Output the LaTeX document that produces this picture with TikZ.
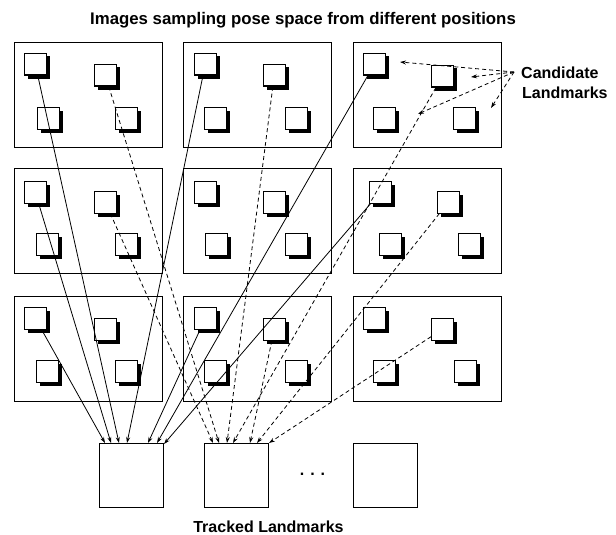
\documentclass[tikz,border=0pt]{standalone}
\usepackage{fontspec}
\setmainfont{Liberation Sans}
\usetikzlibrary{arrows.meta,shadows}
\begin{document}
\begin{tikzpicture}[x=1pt,y=-1pt,
  panel/.style={draw, line width=1.3pt, minimum width=148pt, minimum height=105pt, inner sep=0pt, anchor=north west},
  lm/.style={draw, fill=white, line width=1.1pt, minimum size=21.5pt, inner sep=0pt, anchor=north west,
     drop shadow={shadow xshift=3.5pt, shadow yshift=-3.5pt, opacity=1, fill=black, draw=black}},
  tbox/.style={draw, line width=1.2pt, minimum width=64pt, minimum height=64pt, inner sep=0pt, anchor=north west},
  link/.style={line width=0.8pt, -{Stealth[length=6pt,width=4pt]}},
  dlink/.style={link, dash pattern=on 4pt off 3pt},
  lbl/.style={font=\bfseries\fontsize{16}{19}\selectfont, inner sep=0pt}]
\useasboundingbox (0,0) rectangle (616,535);
\fill[white] (0,0) rectangle (616,535);

% title
\node[lbl, font=\bfseries\fontsize{16.8}{20}\selectfont, anchor=base] (title) at (303,25) {Images sampling pose space from different positions};

% panels
\foreach \r/\ty in {1/42,2/168,3/296}{
  \foreach \c/\lx in {1/14,2/183,3/353}{
    \node[panel] (p\r\c) at (\lx,\ty) {};
  }
}

% row 1 landmarks
\node[lm] (s11a) at (24,53) {};
\node[lm] (s11b) at (94,64) {};
\node[lm] (s11c) at (37,107) {};
\node[lm] (s11d) at (115,107) {};
\node[lm] (s12a) at (194,53) {};
\node[lm] (s12b) at (263,64) {};
\node[lm] (s12c) at (204,107) {};
\node[lm] (s12d) at (285,107) {};
\node[lm] (s13a) at (363,53) {};
\node[lm] (s13b) at (431,65) {};
\node[lm] (s13c) at (373,107) {};
\node[lm] (s13d) at (453,107) {};
% row 2
\node[lm] (s21a) at (24,181) {};
\node[lm] (s21b) at (94,191) {};
\node[lm] (s21c) at (36,233) {};
\node[lm] (s21d) at (115,233) {};
\node[lm] (s22a) at (194,181) {};
\node[lm] (s22b) at (263,191) {};
\node[lm] (s22c) at (205,233) {};
\node[lm] (s22d) at (285,233) {};
\node[lm] (s23a) at (369,181) {};
\node[lm] (s23b) at (437,191) {};
\node[lm] (s23c) at (379,233) {};
\node[lm] (s23d) at (458,233) {};
% row 3
\node[lm] (s31a) at (24,307) {};
\node[lm] (s31b) at (94,318) {};
\node[lm] (s31c) at (36,360) {};
\node[lm] (s31d) at (115,360) {};
\node[lm] (s32a) at (194,307) {};
\node[lm] (s32b) at (263,318) {};
\node[lm] (s32c) at (204,360) {};
\node[lm] (s32d) at (285,360) {};
\node[lm] (s33a) at (363,307) {};
\node[lm] (s33b) at (431,318) {};
\node[lm] (s33c) at (373,360) {};
\node[lm] (s33d) at (454,360) {};

% tracked landmark boxes
\node[tbox] (box1) at (99,443) {};
\node[tbox] (box2) at (204,443) {};
\node[tbox] (box3) at (353,443) {};
\node[lbl, anchor=base] (dots) at (312.5,475) {. . .};
\node[lbl, anchor=base] (tracked) at (268.5,532) {Tracked Landmarks};

% candidate label
\node[lbl, anchor=base west] (cand1) at (521,78) {Candidate};
\node[lbl, anchor=base west] (cand2) at (522,99) {Landmarks};

% end points on box tops
\coordinate (e1) at (105,443);
\coordinate (e2) at (111,443);
\coordinate (e3) at (119,443);
\coordinate (e4) at (127,443);
\coordinate (e5) at (148,443);
\coordinate (e6) at (157,443);
\coordinate (e7) at (164,444);
\coordinate (f1) at (213,443);
\coordinate (f2) at (219,443);
\coordinate (f3) at (227,443);
\coordinate (f4) at (233,443);
\coordinate (f5) at (250,443);
\coordinate (f6) at (257,443);
\coordinate (f7) at (269,443);

% solid links to first tracked landmark
\draw[link] (s31a) -- (e1);
\draw[link] (s21a) -- (e2);
\draw[link] (s11a) -- (e3);
\draw[link] (s12a) -- (e4);
\draw[link] (s32a) -- (e5);
\draw[link] (s13a) -- (e6);
\draw[link] (s23a) -- (e7);

% dashed links to second tracked landmark
\draw[dlink] (s21b) -- (f1);
\draw[dlink] (s11b) -- (f2);
\draw[dlink] (s12b) -- (f3);
\draw[dlink] (s13b) -- (f4);
\draw[dlink] (s32b) -- (f5);
\draw[dlink] (s23b) -- (f6);
\draw[dlink] (s33b) -- (f7);

% candidate landmark pointers
\coordinate (co) at (514,72);
\coordinate (ca1) at (400,62);
\coordinate (ca2) at (471,77);
\coordinate (ca3) at (418,114);
\coordinate (ca4) at (491,108);
\draw[dlink] (co) -- (ca1);
\draw[dlink] (co) -- (ca2);
\draw[dlink] (co) -- (ca3);
\draw[dlink] (co) -- (ca4);
\end{tikzpicture}
\end{document}
